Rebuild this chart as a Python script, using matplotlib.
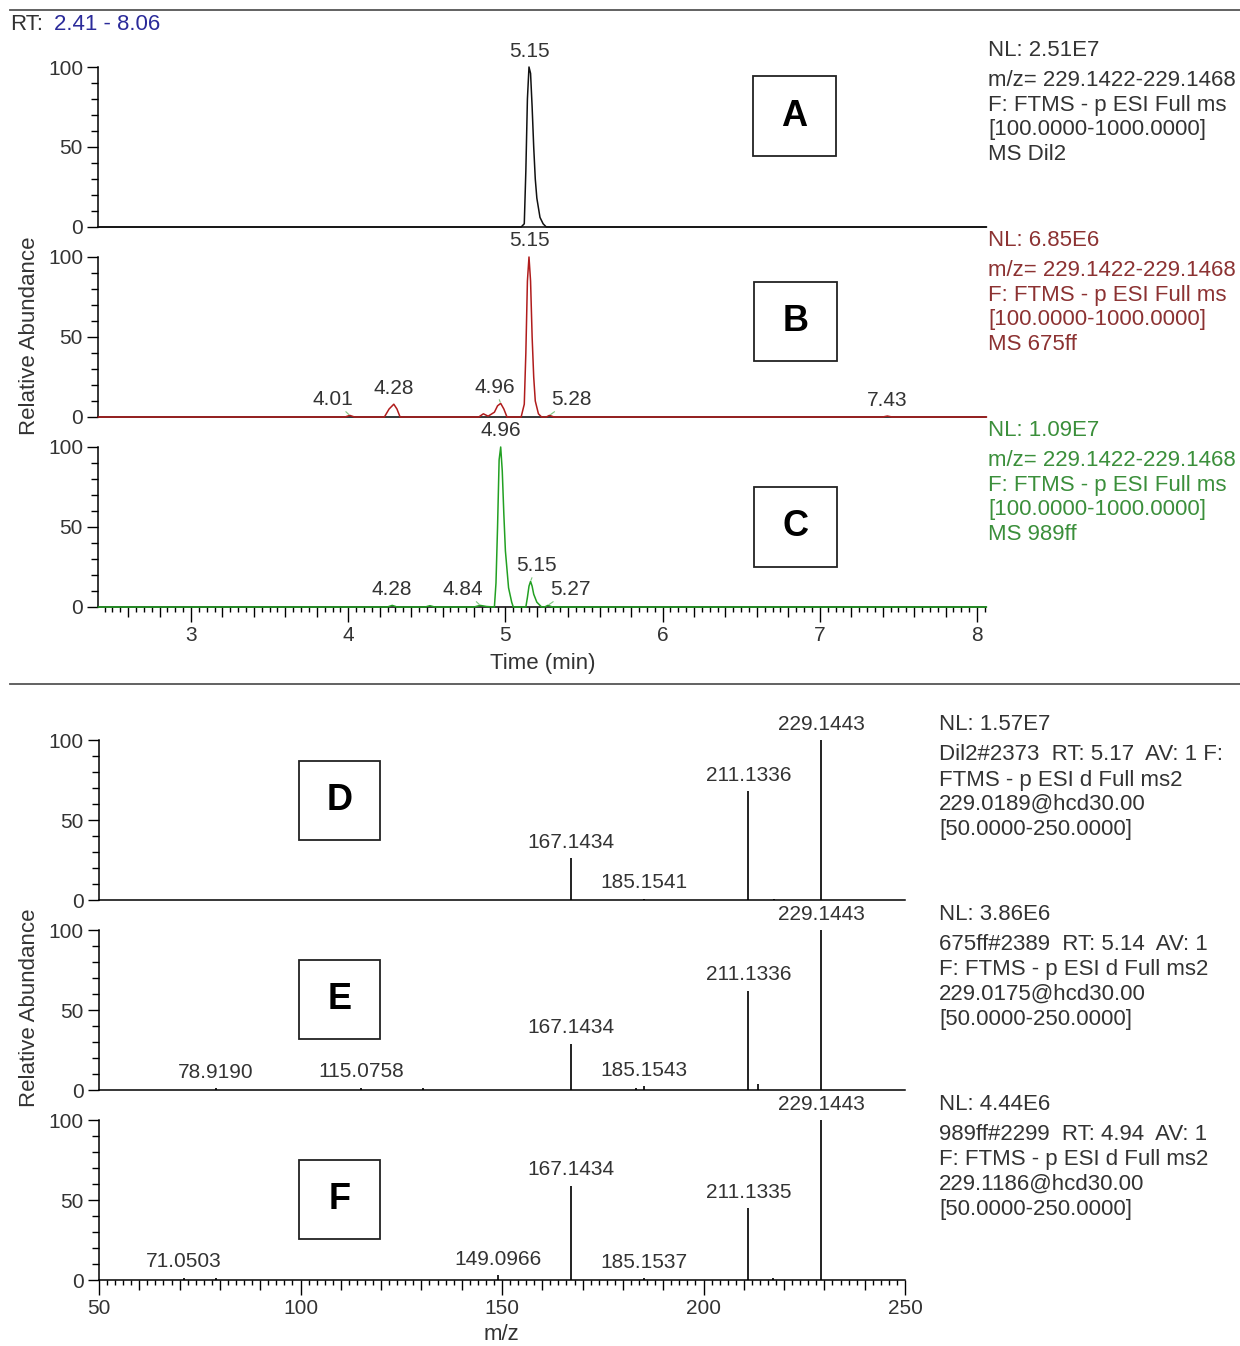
import numpy as np
import matplotlib
matplotlib.use('Agg')
import matplotlib.pyplot as plt
from matplotlib.patches import Rectangle
from matplotlib.lines import Line2D
from matplotlib.ticker import FixedLocator, FuncFormatter

plt.rcParams['font.family'] = ['Liberation Sans', 'DejaVu Sans']

W, H = 1240, 1346

# ---- chromatograms (time in min, relative abundance) ----
time_a = [2.41, 5.10, 5.12, 5.13, 5.14, 5.15, 5.16, 5.17, 5.18, 5.19, 5.20, 5.22, 5.24, 5.26, 8.06]
abund_a = [0, 0, 2, 35, 80, 100, 96, 75, 50, 30, 18, 6, 2, 0, 0]

time_b = [2.41, 3.98, 4.01, 4.04, 4.23, 4.26, 4.29, 4.31, 4.33, 4.83, 4.86, 4.89, 4.93, 4.95,
          4.97, 4.99, 5.01, 5.10, 5.12, 5.13, 5.14, 5.15, 5.16, 5.17, 5.18, 5.19, 5.21, 5.23,
          5.26, 5.28, 5.31, 7.40, 7.43, 7.46, 8.06]
abund_b = [0, 0, 1, 0, 0, 5, 8, 5, 0, 0, 2, 0.5, 3, 7,
           8.5, 5, 0, 0, 8, 40, 85, 100, 85, 50, 25, 10, 2, 0,
           0, 1, 0, 0, 0.6, 0, 0]

time_c = [2.41, 4.25, 4.28, 4.31, 4.49, 4.52, 4.55, 4.80, 4.84, 4.88, 4.93, 4.94, 4.95, 4.96,
          4.97, 4.98, 4.99, 5.00, 5.02, 5.04, 5.05, 5.13, 5.14, 5.15, 5.16, 5.17, 5.18, 5.20,
          5.23, 5.25, 5.27, 5.30, 8.06]
abund_c = [0, 0, 1, 0, 0, 0.8, 0, 0, 1, 0.3, 0, 15, 50, 92,
           100, 85, 58, 35, 12, 3, 0, 0, 6, 13, 16, 13, 8, 3,
           0, 0, 1, 0, 0]

# peak labels: (time, abundance, text)
labels_a = [(5.15, 100, '5.15')]
labels_b = [(4.01, 1, '4.01'), (4.29, 8, '4.28'), (4.97, 8.5, '4.96'),
            (5.15, 100, '5.15'), (5.28, 1, '5.28'), (7.43, 0.6, '7.43')]
labels_c = [(4.28, 1, '4.28'), (4.84, 1, '4.84'), (4.97, 100, '4.96'),
            (5.16, 16, '5.15'), (5.27, 1, '5.27')]

# ---- MS2 spectra (m/z, relative abundance) ----
mz_d = [167.1434, 185.1541, 211.1336, 217.5, 229.1443]
int_d = [26, 0.8, 68, 0.8, 100]
mz_e = [78.9190, 115.0758, 130.4, 167.1434, 183.3, 185.1543, 211.1336, 213.4, 229.1443]
int_e = [1, 1.5, 1, 29, 1, 2.5, 62, 4, 100]
mz_f = [71.0503, 79.0, 149.0966, 167.1434, 185.1537, 211.1335, 217.2, 229.1443]
int_f = [1.5, 1.5, 3, 59, 1, 45, 1.5, 100]
labeled_d = ['167.1434', '185.1541', '211.1336', '229.1443']
labeled_e = ['78.9190', '115.0758', '167.1434', '185.1543', '211.1336', '229.1443']
labeled_f = ['71.0503', '149.0966', '167.1434', '185.1537', '211.1335', '229.1443']

info_a = ['NL: 2.51E7', 'm/z= 229.1422-229.1468', 'F: FTMS - p ESI Full ms',
          '[100.0000-1000.0000]', 'MS Dil2']
info_b = ['NL: 6.85E6', 'm/z= 229.1422-229.1468', 'F: FTMS - p ESI Full ms',
          '[100.0000-1000.0000]', 'MS 675ff']
info_c = ['NL: 1.09E7', 'm/z= 229.1422-229.1468', 'F: FTMS - p ESI Full ms',
          '[100.0000-1000.0000]', 'MS 989ff']
info_d = ['NL: 1.57E7', 'Dil2#2373  RT: 5.17  AV: 1 F:', 'FTMS - p ESI d Full ms2',
          '229.0189@hcd30.00', '[50.0000-250.0000]']
info_e = ['NL: 3.86E6', '675ff#2389  RT: 5.14  AV: 1', 'F: FTMS - p ESI d Full ms2',
          '229.0175@hcd30.00', '[50.0000-250.0000]']
info_f = ['NL: 4.44E6', '989ff#2299  RT: 4.94  AV: 1', 'F: FTMS - p ESI d Full ms2',
          '229.1186@hcd30.00', '[50.0000-250.0000]']

fig = plt.figure(figsize=(W / 100, H / 100), dpi=100)


def fx(x):
    return x / W


def fy(y):
    return 1 - y / H


def px_axes(left, top, right, bottom):
    ax = fig.add_axes([fx(left), fy(bottom), (right - left) / W, (bottom - top) / H])
    ax.patch.set_visible(False)
    for s in ['top', 'right']:
        ax.spines[s].set_visible(False)
    ax.spines['left'].set_bounds(0, 100)
    ax.spines['left'].set_linewidth(1.1)
    ax.spines['bottom'].set_linewidth(1.1)
    ax.set_ylim(0, 118.75)
    ax.yaxis.set_major_locator(FixedLocator([0, 50, 100]))
    ax.yaxis.set_minor_locator(FixedLocator([10, 20, 30, 40, 60, 70, 80, 90]))
    ax.tick_params(axis='y', which='major', length=8, width=1, labelsize=15, pad=3,
                   labelcolor='#333333')
    ax.tick_params(axis='y', which='minor', length=5, width=1)
    return ax


def bottom_ticks(ax, minor, medium, big, fmt):
    ax.xaxis.set_minor_locator(FixedLocator(minor))
    ax.xaxis.set_major_locator(FixedLocator(medium))
    ax.xaxis.set_major_formatter(FuncFormatter(fmt))
    ax.tick_params(axis='x', which='major', length=7, width=1, labelsize=15, pad=7,
                   labelcolor='#333333')
    ax.tick_params(axis='x', which='minor', length=3.5, width=1)
    for t, v in zip(ax.xaxis.get_major_ticks(), medium):
        if abs(v / big - round(v / big)) < 1e-6:
            t.tick1line.set_markersize(10.5)


def no_xticks(ax):
    ax.tick_params(axis='x', which='both', bottom=False, labelbottom=False)


def peak_labels(ax, labels, leader_color):
    for t, a, txt in labels:
        dx = {'4.01': -17, '4.96': -6, '5.28': 22, '4.84': -17, '5.27': 23}.get(txt, 0)
        if txt == '5.15' and a < 50:
            dx = 6
        if txt == '4.96' and a > 50:
            dx = 0
        kw = {}
        if dx != 0:
            kw['arrowprops'] = dict(arrowstyle='-', color=leader_color, lw=0.8,
                                    shrinkA=0, shrinkB=1)
        ax.annotate(txt, (t, a), xytext=(dx * 0.72, 16 * 0.72), textcoords='offset points',
                    ha='center', va='center', fontsize=15, color='#333333',
                    annotation_clip=False, **kw)


# chromatogram panels
chrom = [(time_a, abund_a, labels_a, '#111111', info_a, '#333333', 37),
         (time_b, abund_b, labels_b, '#b01c1c', info_b, '#8c3232', 227),
         (time_c, abund_c, labels_c, '#22a022', info_c, '#3b8f3b', 417)]
for i, (t, a, labs, col, info, tcol, top) in enumerate(chrom):
    ax = px_axes(98.3, top, 986.4, top + 190)
    ax.set_xlim(2.41, 8.06)
    ax.plot(t, a, color=col, lw=1.1, clip_on=False, zorder=3)
    peak_labels(ax, labs, '#7cc47c')
    if i < 2:
        no_xticks(ax)
    else:
        bottom_ticks(ax, np.round(np.arange(2.45, 8.06, 0.05), 2),
                     np.round(np.arange(2.6, 8.01, 0.2), 2), 1,
                     lambda v, p: f'{v:.0f}' if abs(v - round(v)) < 1e-6 else '')
    ys = [top + 13, top + 43, top + 68, top + 93, top + 118]
    for y, line in zip(ys, info):
        fig.text(fx(988), fy(y), line, fontsize=16, color=tcol, va='center', ha='left')

# spectrum panels
spec = [(mz_d, int_d, labeled_d, info_d, 710),
        (mz_e, int_e, labeled_e, info_e, 900),
        (mz_f, int_f, labeled_f, info_f, 1090)]
for i, (mz, inten, labd, info, top) in enumerate(spec):
    ax = px_axes(99, top, 905, top + 190)
    ax.set_xlim(50, 250)
    ax.vlines(mz, 0, inten, color='#111111', lw=1.3)
    for m, v in zip(mz, inten):
        s = f'{m:.4f}'
        if s in labd:
            ax.annotate(s, (m, v), xytext=(0, 16 * 0.72), textcoords='offset points',
                        ha='center', va='center', fontsize=15, color='#333333',
                        annotation_clip=False)
    if i < 2:
        no_xticks(ax)
    else:
        bottom_ticks(ax, np.arange(52, 250, 2), np.arange(50, 251, 10), 50,
                     lambda v, p: f'{v:.0f}' if v % 50 == 0 else '')
    ys = [top + 14, top + 45, top + 70, top + 94, top + 120]
    for y, line in zip(ys, info):
        fig.text(fx(939), fy(y), line, fontsize=16, color='#333333', va='center', ha='left')

# letter boxes
boxes = [('A', 753, 76, 836, 156), ('B', 754, 282, 837, 361), ('C', 754, 487, 837, 567),
         ('D', 299, 761, 380, 840), ('E', 299, 960, 380, 1039), ('F', 299, 1160, 380, 1239)]
for letter, x0, y0, x1, y1 in boxes:
    fig.add_artist(Rectangle((fx(x0), fy(y1)), (x1 - x0) / W, (y1 - y0) / H,
                             transform=fig.transFigure, fill=False, ec='#222222', lw=1.3))
    fig.text(fx((x0 + x1) / 2), fy((y0 + y1) / 2), letter, fontsize=26, fontweight='bold',
             ha='center', va='center', color='black')

# separators and headings
fig.add_artist(Line2D([fx(10), 1], [fy(10), fy(10)], color='#555555', lw=1.3))
fig.add_artist(Line2D([fx(10), 1], [fy(684), fy(684)], color='#555555', lw=1.3))
fig.text(fx(10), fy(25), 'RT:', fontsize=16, color='#333333', va='center', ha='left')
fig.text(fx(54), fy(25), '2.41 - 8.06', fontsize=16, color='#2b2b9a', va='center', ha='left')

fig.text(fx(30), fy(336), 'Relative Abundance', rotation=90, fontsize=16, color='#333333',
         ha='center', va='center')
fig.text(fx(30), fy(1008), 'Relative Abundance', rotation=90, fontsize=16, color='#333333',
         ha='center', va='center')
fig.text(fx(543), fy(663), 'Time (min)', fontsize=16, color='#333333', ha='center', va='center')
fig.text(fx(501), fy(1335), 'm/z', fontsize=16, color='#333333', ha='center', va='center')

fig.savefig('out.png', dpi=100, facecolor='white')
